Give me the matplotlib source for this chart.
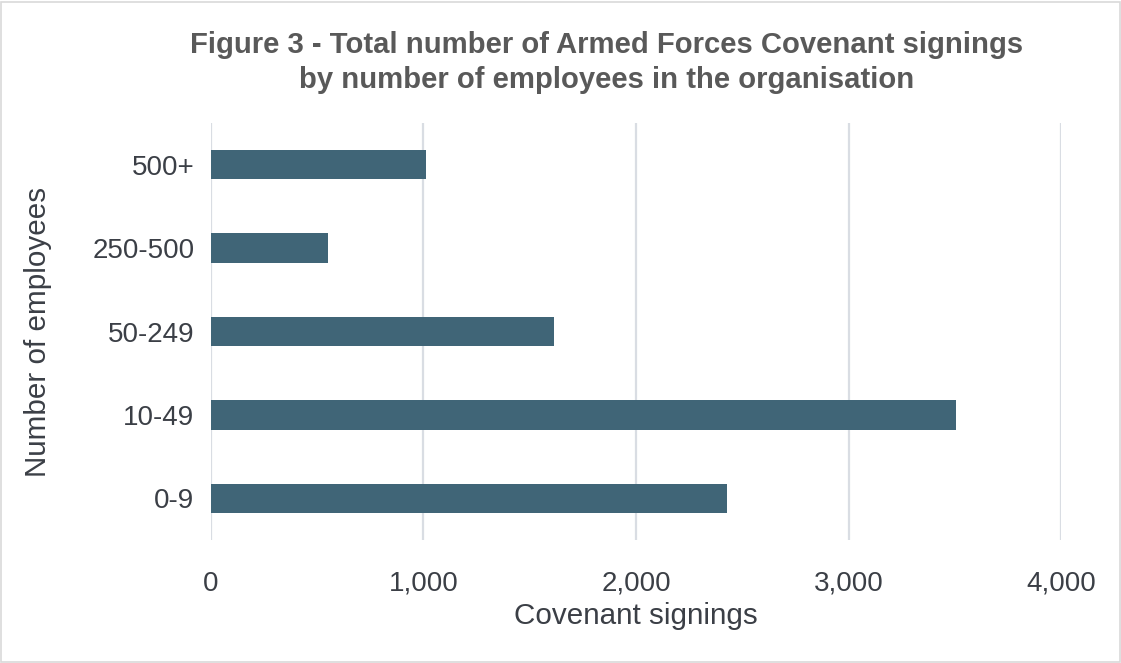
import matplotlib.pyplot as plt
from matplotlib.patches import Rectangle
from matplotlib.ticker import FuncFormatter

# Data
categories = ['0-9', '10-49', '50-249', '250-500', '500+']
signings = [2427, 3505, 1613, 552, 1010]
x_ticks = [0, 1000, 2000, 3000, 4000]

bar_color = '#406577'
grid_color = '#d9dde3'
text_color = '#3b3f46'
title_color = '#595959'

plt.rcParams['font.family'] = ['Liberation Sans', 'DejaVu Sans']

fig = plt.figure(figsize=(11.21, 6.63), dpi=100)
ax = fig.add_axes([0.1882, 0.1855, 0.7583, 0.629])

# Horizontal bars
ax.barh(categories, signings, height=0.35, color=bar_color, zorder=3)

ax.set_xlim(0, 4000)
ax.set_ylim(-0.5, len(categories) - 0.5)
ax.set_xticks(x_ticks)
ax.xaxis.set_major_formatter(FuncFormatter(lambda v, p: f'{int(v):,}'))
ax.grid(axis='x', color=grid_color, linewidth=1.6, zorder=0)
ax.grid(axis='y', visible=False)

for s in ax.spines.values():
    s.set_visible(False)
ax.tick_params(axis='both', length=0, labelsize=20, colors=text_color)
ax.tick_params(axis='x', pad=22)
ax.tick_params(axis='y', pad=12)

ax.set_xlabel('Covenant signings', fontsize=21.3, color=text_color, labelpad=4)
ax.set_ylabel('Number of employees', fontsize=21.3, color=text_color, labelpad=29)

fig.text(0.5415, 0.906, 'Figure 3 - Total number of Armed Forces Covenant signings\n'
         'by number of employees in the organisation',
         ha='center', va='center', fontsize=21.1, fontweight='bold',
         color=title_color, linespacing=1.3)

# light frame round the whole chart
fig.patches.append(Rectangle((0.001, 0.001), 0.998, 0.996, transform=fig.transFigure,
                             fill=False, edgecolor='#d9d9d9', linewidth=1.2))

fig.savefig('out.png', dpi=100)
